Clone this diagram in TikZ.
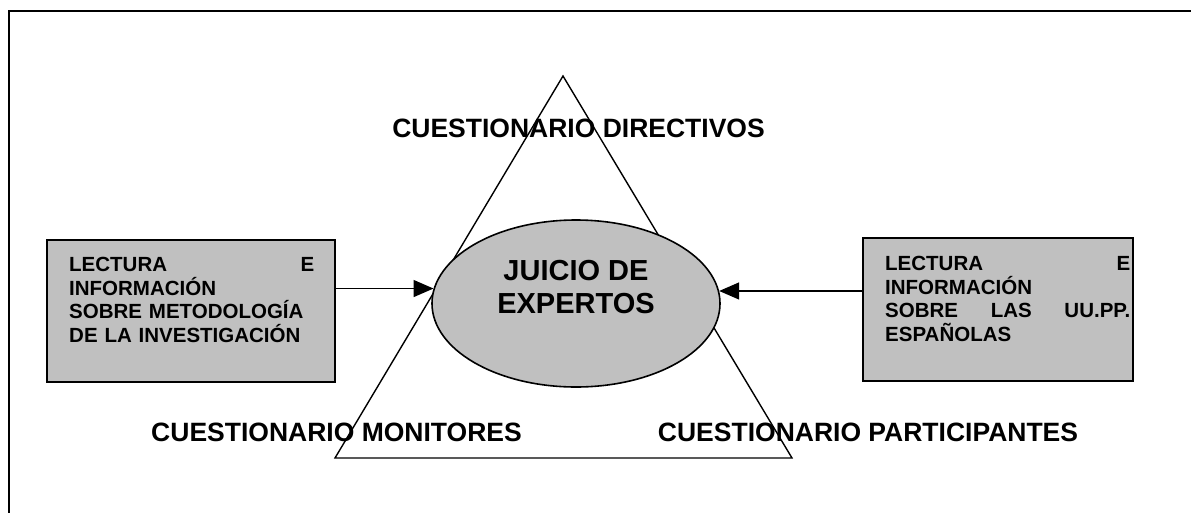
\documentclass[tikz,border=0pt]{standalone}
\usepackage{fontspec}
\setmainfont{Liberation Sans}
\usetikzlibrary{shapes.geometric,arrows.meta}
\definecolor{boxgray}{HTML}{C0C0C0}
\tikzset{
  frameline/.style={line width=2.6pt},
  triline/.style={line width=1.4pt},
  graybox/.style={draw, line width=1.6pt, fill=boxgray},
  boxtext/.style={inner sep=0pt, text width=245pt, align=left, anchor=north west,
     font=\fontsize{20.5}{23.6}\selectfont\bfseries},
  biglabel/.style={inner sep=0pt, anchor=base, font=\fontsize{26.5}{30}\selectfont\bfseries},
  conn/.style={line width=1.5pt, -{Triangle[length=20pt,width=17pt]}}
}
\begin{document}
\begin{tikzpicture}[x=1pt,y=-1pt]
\useasboundingbox (0,0) rectangle (1191,512);
% outer frame (only left and top edges visible)
\draw[frameline] (9,530) -- (9,11) -- (1210,11);
% triangle
\coordinate (ta) at (563,76);
\coordinate (tl) at (335,458);
\coordinate (tr) at (792,458);
\draw[triline] (ta) -- (tl) -- (tr) -- cycle;
% ellipse
\node[ellipse, draw, line width=1.6pt, fill=boxgray, minimum width=288pt, minimum height=167pt, inner sep=0pt] (jx) at (576,303.5) {};
\node[inner sep=0pt, anchor=north, align=center, font=\fontsize{29}{33.5}\selectfont\bfseries] (jt) at (576,260) {JUICIO DE\\EXPERTOS};
% boxes
\node[graybox, minimum width=288pt, minimum height=142pt, inner sep=0pt] (lb) at (191,311) {};
\node[boxtext] (lt) at (69,257) {LECTURA\hfill E\\INFORMACIÓN\\SOBRE METODOLOGÍA\\DE LA INVESTIGACIÓN};
\node[graybox, minimum width=270pt, minimum height=143pt, inner sep=0pt] (rb) at (998,309.5) {};
\node[boxtext] (rt) at (885,256) {LECTURA\hfill E\\INFORMACIÓN\\SOBRE\hfill LAS\hfill UU.PP.\\ESPAÑOLAS};
% arrows
\draw[conn] (lb.east |- jx.174.57) -- (jx.174.57);
\draw[conn] (rb.west |- jx.5.43) -- (jx.5.43);
% labels
\node[biglabel] (qd) at (578.5,137) {CUESTIONARIO DIRECTIVOS};
\node[biglabel] (qm) at (336.5,441) {CUESTIONARIO MONITORES};
\node[biglabel] (qp) at (868,441) {CUESTIONARIO PARTICIPANTES};
\end{tikzpicture}
\end{document}
